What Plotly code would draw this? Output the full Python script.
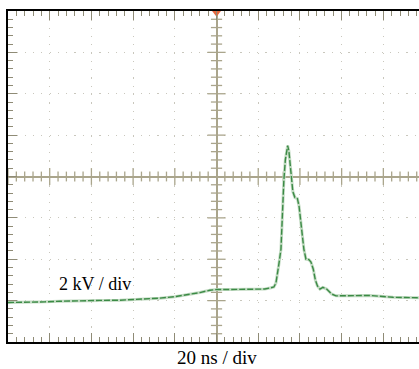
import numpy as np
import plotly.graph_objects as go

# Oscilloscope trace: time (ns) vs voltage (kV); 20 ns/div, 2 kV/div
time_ns = [-100, -92, -82.4, -75.2, -65.6, -56, -46.4, -36.8, -27.2, -20, -12.8, -8, -3.2, 0.1,
           6.4, 16, 23.2, 25.6, 27.5, 28.5, 29.2, 29.9, 30.9, 31.3, 31.8, 32.3, 33.0, 33.6, 34.1,
           34.7, 35.4, 36.0, 36.6, 37.6, 38.8, 39.6, 40.5, 41.2, 41.9, 42.9, 44.3, 45.3, 46.4,
           47.4, 48.4, 49.6, 51.0, 52.8, 55.2, 57.3, 61.6, 68.8, 73.6, 78.4, 84.6, 90.4, 97.1]
voltage_kv = [-6.09, -6.09, -6.06, -6.03, -6.00, -5.99, -5.98, -5.94, -5.88, -5.81, -5.70, -5.61,
              -5.50, -5.46, -5.46, -5.45, -5.44, -5.39, -5.34, -5.15, -4.77, -4.24, -3.52, -2.46,
              -1.12, -0.16, 0.80, 1.33, 1.49, 1.23, 0.42, -0.25, -0.73, -1.02, -1.07, -1.45,
              -2.17, -2.80, -3.52, -4.00, -4.02, -4.14, -4.48, -5.01, -5.29, -5.44, -5.36, -5.44,
              -5.68, -5.77, -5.76, -5.73, -5.75, -5.79, -5.84, -5.85, -5.86]

X_RANGE = [-100, 97.1]
Y_RANGE = [-8, 8]
X_DIV = 20
Y_DIV = 2
label_v = "2 kV / div"
label_t = "20 ns / div"

TAN = "#aaa58c"
TICKC = "#8f8b76"
GRIDC = "#c9c7bd"

HEIGHT = 369
MARGIN_T, MARGIN_B = 11, 27

fig = go.Figure()

# crosshair minor/major tick marks
xt = np.arange(-100, 100.01, X_DIV / 5)
xt = xt[(np.abs(xt) > 1e-9) & (xt <= X_RANGE[1])]
xmaj = np.isclose(np.mod(xt, X_DIV), 0) | np.isclose(np.mod(xt, X_DIV), X_DIV)
fig.add_trace(go.Scatter(x=xt[~xmaj], y=np.zeros((~xmaj).sum()), mode="markers",
                         marker=dict(symbol="line-ns", size=7, line=dict(width=1.3, color=TAN)),
                         hoverinfo="skip", showlegend=False))
fig.add_trace(go.Scatter(x=xt[xmaj], y=np.zeros(xmaj.sum()), mode="markers",
                         marker=dict(symbol="line-ns", size=12, line=dict(width=1.3, color=TAN)),
                         hoverinfo="skip", showlegend=False))
yt = np.arange(-8, 8.001, Y_DIV / 5)
yt = yt[(np.abs(yt) > 1e-9) & (np.abs(yt) < 7.99)]
ymaj = np.isclose(np.mod(yt, Y_DIV), 0) | np.isclose(np.mod(yt, Y_DIV), Y_DIV)
fig.add_trace(go.Scatter(x=np.zeros((~ymaj).sum()), y=yt[~ymaj], mode="markers",
                         marker=dict(symbol="line-ew", size=8, line=dict(width=1.3, color=TAN)),
                         hoverinfo="skip", showlegend=False))
fig.add_trace(go.Scatter(x=np.zeros(ymaj.sum()), y=yt[ymaj], mode="markers",
                         marker=dict(symbol="line-ew", size=13, line=dict(width=1.3, color=TAN)),
                         hoverinfo="skip", showlegend=False))

# waveform: light halo + dark green
fig.add_trace(go.Scatter(x=time_ns, y=voltage_kv, mode="lines",
                         line=dict(color="#c3dbc3", width=3), hoverinfo="skip", showlegend=False))
fig.add_trace(go.Scatter(x=time_ns, y=voltage_kv, mode="lines",
                         line=dict(color="#3b8a45", width=1.4, dash="6px,2px"),
                         hoverinfo="skip", showlegend=False))

# trigger marker
fig.add_trace(go.Scatter(x=[0], y=[Y_RANGE[1] - 0.08], mode="markers", cliponaxis=False,
                         marker=dict(symbol="triangle-down", size=8, color="#e8693f"),
                         hoverinfo="skip", showlegend=False))

fig.add_annotation(x=-58.5, y=-5.2, xref="x", yref="y", text=label_v, showarrow=False,
                   font=dict(family="Liberation Serif, Times New Roman, serif", size=18, color="black"))
plot_h = HEIGHT - MARGIN_T - MARGIN_B
fig.add_annotation(x=0, y=-(MARGIN_B - 0.5) / plot_h, xref="x", yref="paper", text=label_t,
                   showarrow=False, yanchor="bottom", borderpad=0,
                   font=dict(family="Liberation Serif, Times New Roman, serif", size=19, color="black"))

fig.update_xaxes(range=X_RANGE, showgrid=True, gridcolor=GRIDC, gridwidth=1, griddash="1.2px,7.1px",
                 tick0=0, dtick=X_DIV, ticks="inside", ticklen=9, tickcolor=TICKC, tickwidth=1,
                 minor=dict(dtick=X_DIV / 5, tick0=0, ticks="inside", ticklen=5, tickcolor=TICKC,
                            tickwidth=1, showgrid=False),
                 showticklabels=False, showline=True, linecolor="black", linewidth=2,
                 mirror="allticks", zeroline=True, zerolinecolor=TAN, zerolinewidth=1.5,
                 fixedrange=True)
fig.update_yaxes(range=Y_RANGE, showgrid=True, gridcolor=GRIDC, gridwidth=1, griddash="1.2px,7.1px",
                 tick0=0, dtick=Y_DIV, ticks="inside", ticklen=9, tickcolor=TICKC, tickwidth=1,
                 minor=dict(dtick=Y_DIV / 5, tick0=0, ticks="inside", ticklen=5, tickcolor=TICKC,
                            tickwidth=1, showgrid=False),
                 showticklabels=False, showline=True, linecolor="black", linewidth=2,
                 mirror=False, zeroline=True, zerolinecolor=TAN, zerolinewidth=1.5,
                 fixedrange=True)

fig.update_layout(width=419, height=HEIGHT, margin=dict(l=8, r=0, t=MARGIN_T, b=MARGIN_B),
                  paper_bgcolor="white", plot_bgcolor="white", showlegend=False)

fig.write_html("out.html", config={"displayModeBar": False},
               post_script="document.body.style.margin='0';document.body.style.overflow='hidden';")
